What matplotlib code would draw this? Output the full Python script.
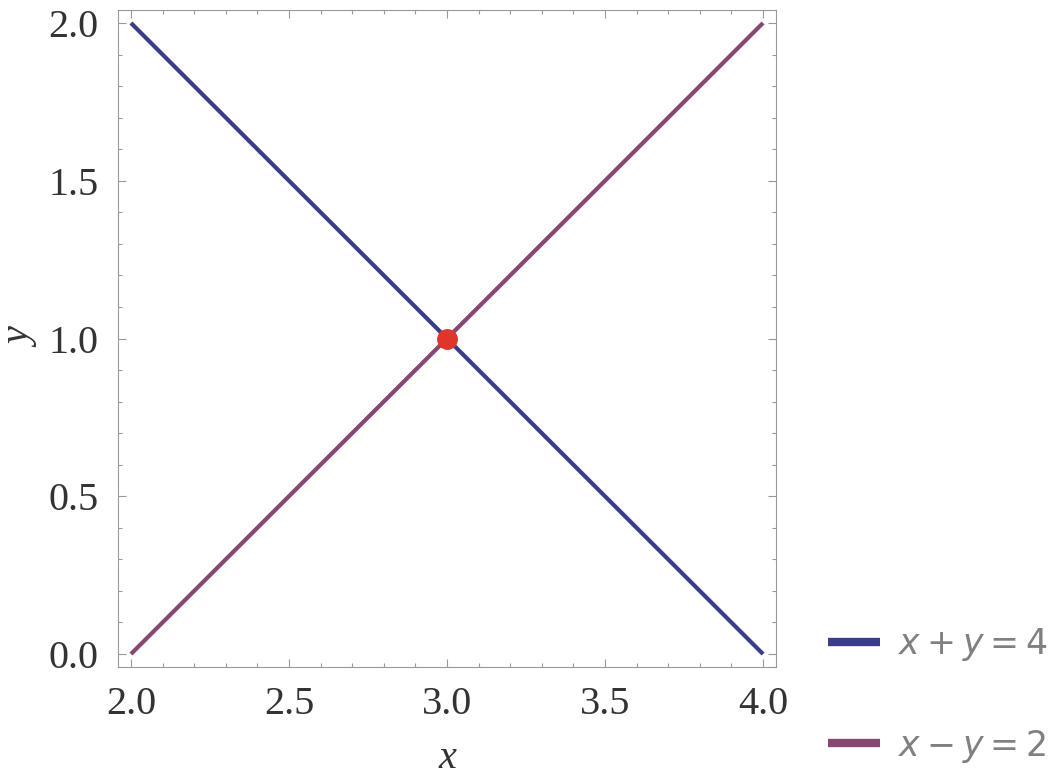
#! /usr/bin/env python3

import numpy as np
import matplotlib
matplotlib.use("Agg")
import matplotlib.pyplot as plt
from matplotlib.ticker import MultipleLocator

# data: the two lines and their crossing point
x_vals = [2.0, 4.0]
line1_y = [2.0, 0.0]   # x + y = 4
line2_y = [0.0, 2.0]   # x - y = 2
point_x = [3.0]
point_y = [1.0]
labels = ["$x + y = 4$", "$x - y = 2$"]
colors = ["#3b3d8c", "#8a4673"]

plt.rcParams['mathtext.fontset'] = 'dejavusans'

fig = plt.figure(figsize=(10.63, 7.77), dpi=100)
ax = fig.add_axes([0.111, 0.1416, 0.619, 0.8455])

h1, = ax.plot(x_vals, line1_y, color=colors[0], lw=3, solid_capstyle='butt')
h2, = ax.plot(x_vals, line2_y, color=colors[1], lw=3, solid_capstyle='butt')
ax.plot(point_x, point_y, 'o', color="#e0352a", ms=14, zorder=5)

ax.set_xlim(1.959, 4.041)
ax.set_ylim(-0.041, 2.041)
ax.xaxis.set_major_locator(MultipleLocator(0.5))
ax.yaxis.set_major_locator(MultipleLocator(0.5))
ax.xaxis.set_minor_locator(MultipleLocator(0.1))
ax.yaxis.set_minor_locator(MultipleLocator(0.1))
ax.xaxis.set_major_formatter(lambda v, p: f"{v:.1f}")
ax.yaxis.set_major_formatter(lambda v, p: f"{v:.1f}")

ax.tick_params(which='both', direction='in', top=True, right=True,
               color='#999999', width=0.8)
ax.tick_params(which='major', length=6, pad=14)
ax.tick_params(which='minor', length=3)
for lab in ax.get_xticklabels() + ax.get_yticklabels():
    lab.set_fontfamily('Liberation Serif')
    lab.set_fontsize(29)
    lab.set_color('#333333')
for s in ax.spines.values():
    s.set_color('#999999')
    s.set_linewidth(0.8)

ax.set_xlabel("x", fontfamily='Liberation Serif', style='italic',
              fontsize=29, color='#333333', labelpad=12)
ax.set_ylabel("y", fontfamily='Liberation Serif', style='italic',
              fontsize=29, color='#333333', labelpad=6)

fig.legend([h1, h2], labels, loc='lower left', bbox_to_anchor=(0.779, 0.016),
           frameon=False, fontsize=25, labelcolor='#808080',
           borderpad=0, borderaxespad=0,
           handlelength=1.5, handletextpad=0.5, labelspacing=1.85)
for lh in fig.legends[0].get_lines():
    lh.set_linewidth(6)

fig.savefig("out.png", dpi=100)
